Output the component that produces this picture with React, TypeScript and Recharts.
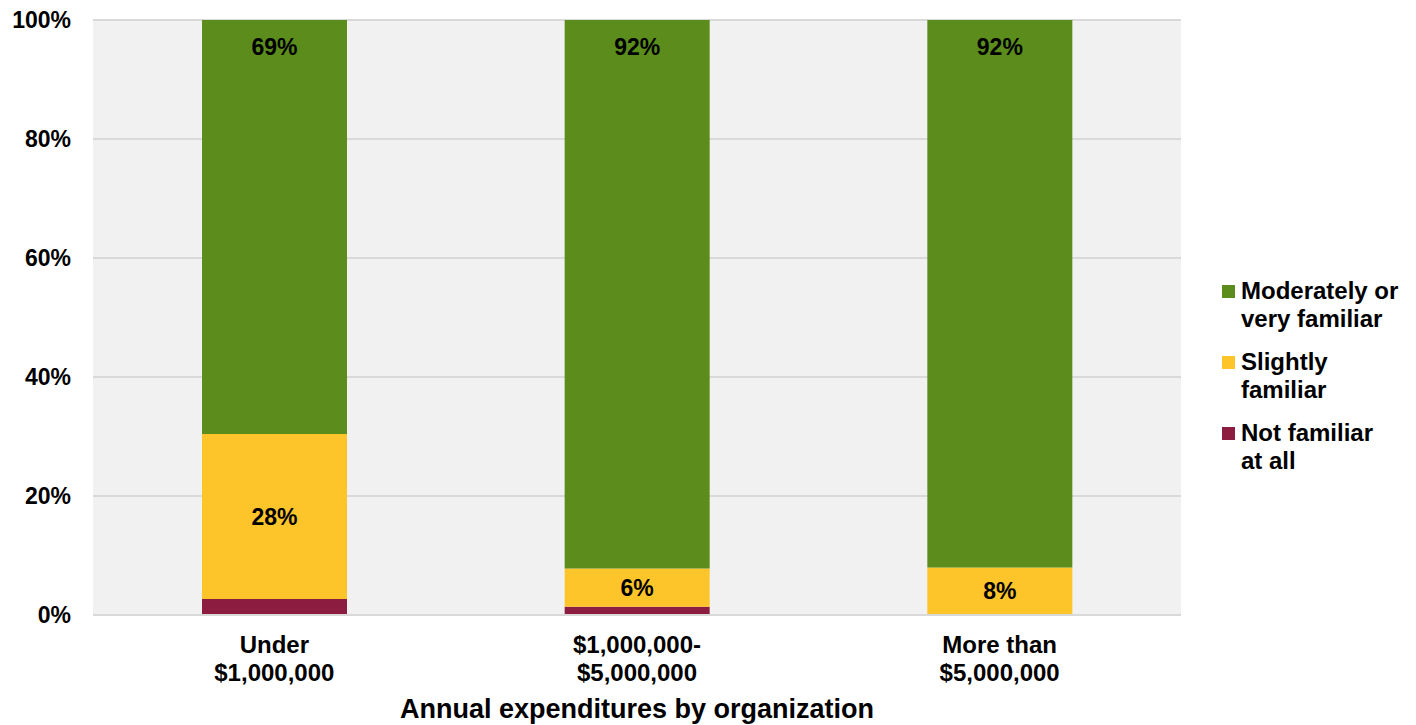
import {
  BarChart, Bar, XAxis, YAxis, CartesianGrid, LabelList
} from 'recharts'

const categories = ['Under\n$1,000,000', '$1,000,000-\n$5,000,000', 'More than\n$5,000,000']
const notFamiliar = [2.7, 1.4, 0]
const slightly = [27.7, 6.4, 8]
const moderately = [69.6, 92.2, 92]
const slightlyLabels = ['28%', '6%', '8%']
const moderatelyLabels = ['69%', '92%', '92%']
const yTicks = [0, 20, 40, 60, 80, 100]

const GREEN = '#5B8C1C'
const GOLD = '#FDC52A'
const MAROON = '#8C1D40'
const FONT = '"Liberation Sans", Arial, sans-serif'

const data = categories.map((name, i) => ({
  name,
  notFamiliar: notFamiliar[i],
  slightly: slightly[i],
  moderately: moderately[i],
  slightlyLabel: slightlyLabels[i],
  moderatelyLabel: moderatelyLabels[i],
}))

const legendItems = [
  { color: GREEN, lines: ['Moderately or', 'very familiar'] },
  { color: GOLD, lines: ['Slightly', 'familiar'] },
  { color: MAROON, lines: ['Not familiar', 'at all'] },
]

function CategoryTick({ x, y, payload }: any) {
  const lines = String(payload.value).split('\n')
  return (
    <text x={x} y={y} textAnchor="middle" fontFamily={FONT} fontSize={24} fontWeight={700} fill="#000">
      {lines.map((l, i) => (
        <tspan key={i} x={x} dy={i === 0 ? 30 : 28}>{l}</tspan>
      ))}
    </text>
  )
}

function LegendBox() {
  return (
    <div style={{
      position: 'absolute', left: 1222, top: 277, fontFamily: FONT, fontSize: 24,
      fontWeight: 700, color: '#000', lineHeight: '28px'
    }}>
      {legendItems.map(item => (
        <div key={item.color} style={{ display: 'flex', alignItems: 'flex-start', marginBottom: 15 }}>
          <div style={{ width: 13, height: 13, background: item.color, marginTop: 8, marginRight: 6 }} />
          <div>{item.lines.map(l => <div key={l}>{l}</div>)}</div>
        </div>
      ))}
    </div>
  )
}

export default function App() {
  return (
    <div style={{ position: 'absolute', left: 0, top: 0, width: 1416, height: 725, background: '#fff' }}>
      <BarChart width={1416} height={725} data={data} barSize={145}
        margin={{ top: 20, right: 235, left: 0, bottom: 0 }}>
        <CartesianGrid vertical={false} fill="#F1F1F1" stroke="#D9D9D9" strokeWidth={2} />
        <XAxis dataKey="name" tick={<CategoryTick />} tickLine={false} interval={0}
          axisLine={{ stroke: '#D9D9D9', strokeWidth: 2 }} height={110}
          label={{ value: 'Annual expenditures by organization', position: 'insideBottom', offset: 7,
            style: { fontFamily: FONT, fontSize: 27, fontWeight: 700, fill: '#000' } }} />
        <YAxis domain={[0, 100]} ticks={yTicks} width={93} tickLine={false} axisLine={false}
          tickFormatter={(v: number) => `${v}%`} tickMargin={16}
          tick={{ fontFamily: FONT, fontSize: 23, fontWeight: 700, fill: '#000' }} />
        <Bar dataKey="notFamiliar" stackId="a" fill={MAROON} isAnimationActive={false} />
        <Bar dataKey="slightly" stackId="a" fill={GOLD} isAnimationActive={false}>
          <LabelList dataKey="slightlyLabel" position="center"
            style={{ fontFamily: FONT, fontSize: 23, fontWeight: 700, fill: '#000' }} />
        </Bar>
        <Bar dataKey="moderately" stackId="a" fill={GREEN} isAnimationActive={false}>
          <LabelList dataKey="moderatelyLabel" position="insideTop" offset={19}
            style={{ fontFamily: FONT, fontSize: 23, fontWeight: 700, fill: '#000' }} />
        </Bar>
      </BarChart>
      <LegendBox />
    </div>
  )
}
